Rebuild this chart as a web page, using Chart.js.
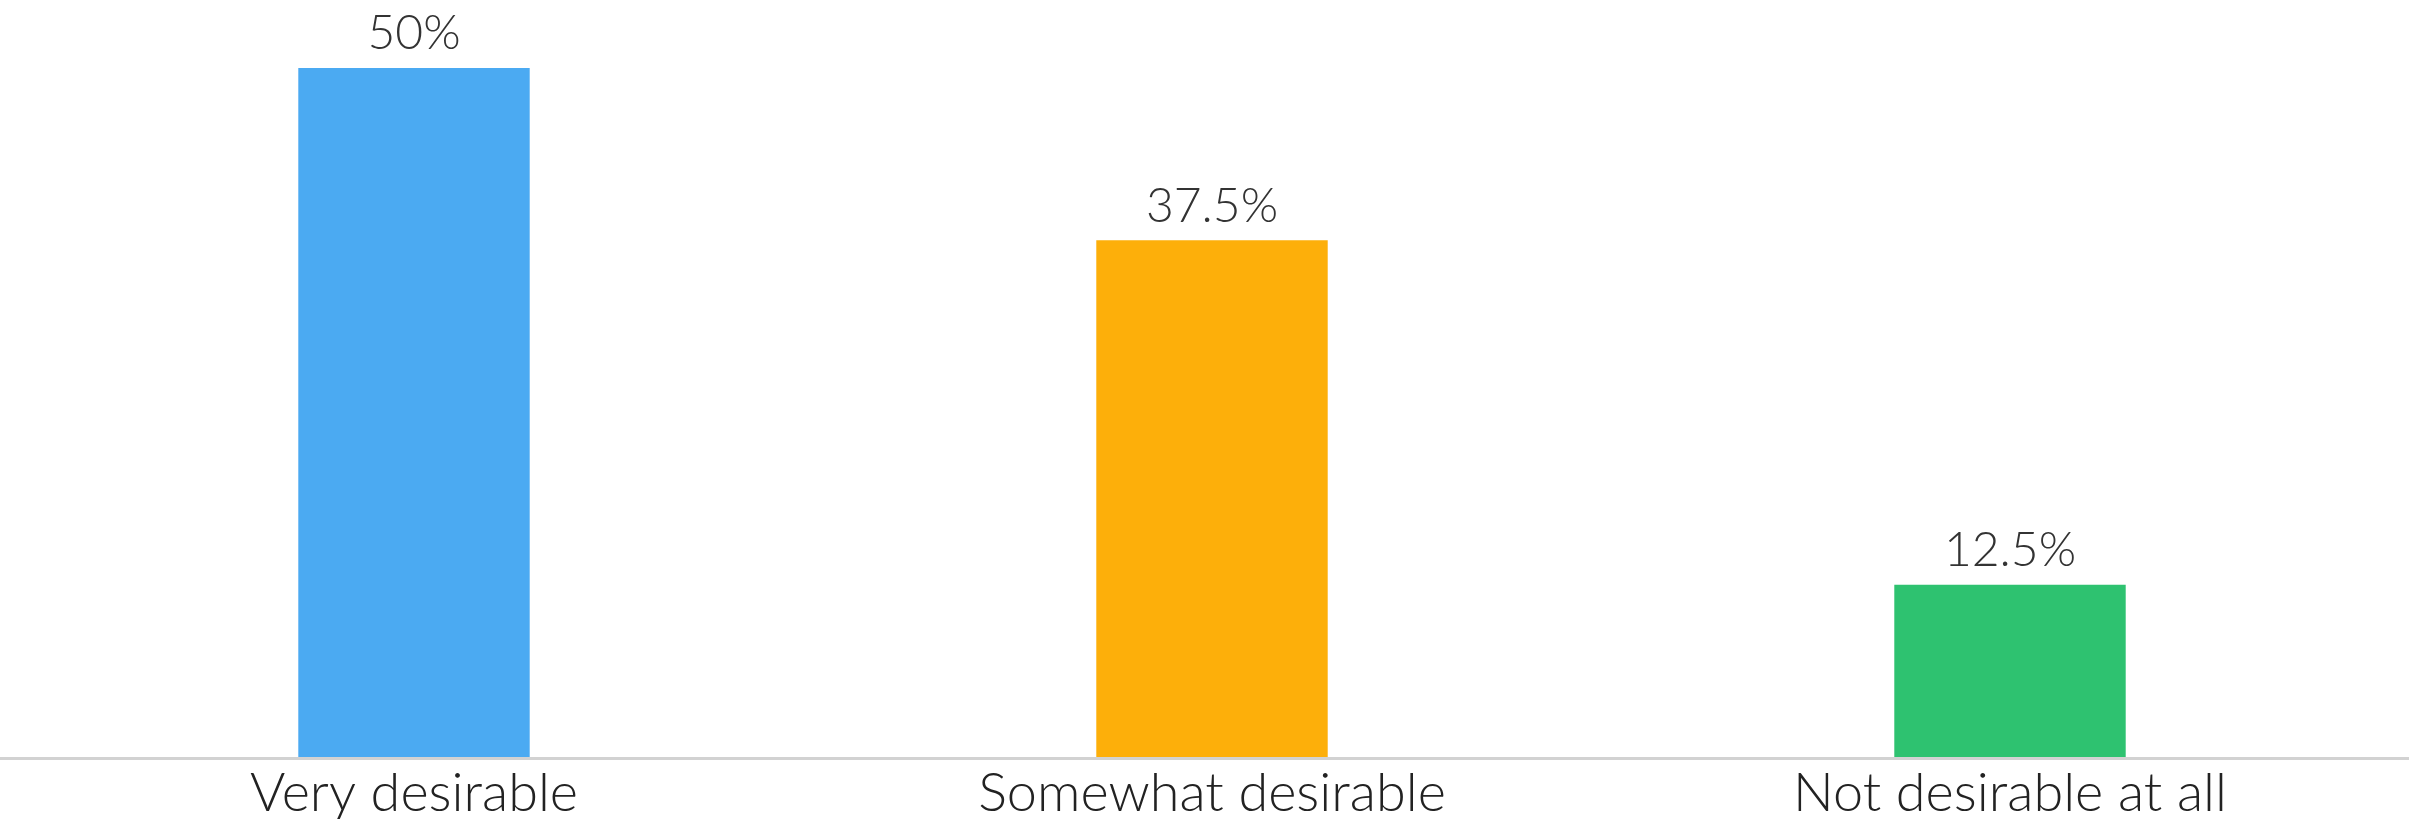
<!DOCTYPE html>
<html>
<head>
<meta charset="utf-8">
<script src="https://cdn.jsdelivr.net/npm/chart.js@4.4.1/dist/chart.umd.min.js"></script>
<style>
    html, body { margin: 0; padding: 0; background: #fff; overflow: hidden; }
    #wrap { width: 2432px; height: 835px; position: relative; }
</style>
</head>
<body>
<div id="wrap"><canvas id="barChart"></canvas></div>
<script>
// Chart data
const categories = ['Very desirable', 'Somewhat desirable', 'Not desirable at all'];
const shares = [50, 37.5, 12.5];
const barColors = ['#4BAAF2', '#FDAF0A', '#2EC270'];

// Draws the percentage above each bar
const valueLabels = {
    id: 'valueLabels',
    afterDatasetsDraw(chart) {
        const ctx = chart.ctx;
        const meta = chart.getDatasetMeta(0);
        ctx.save();
        ctx.font = '300 48px Lato, "Open Sans", sans-serif';
        ctx.fillStyle = '#333';
        ctx.textAlign = 'center';
        ctx.textBaseline = 'bottom';
        meta.data.forEach((bar, i) => {
            ctx.fillText(shares[i] + '%', bar.x, bar.y - 10);
        });
        ctx.restore();
    }
};

// Extends the baseline to the left edge like the original
const baseLine = {
    id: 'baseLine',
    beforeDatasetsDraw(chart) {
        const ctx = chart.ctx;
        const y = chart.scales.y.getPixelForValue(0);
        ctx.save();
        ctx.strokeStyle = '#d2d2d2';
        ctx.lineWidth = 3;
        ctx.beginPath();
        ctx.moveTo(0, y + 1.5);
        ctx.lineTo(chart.chartArea.right, y + 1.5);
        ctx.stroke();
        ctx.restore();
    }
};

const ctx = document.getElementById('barChart').getContext('2d');
new Chart(ctx, {
    type: 'bar',
    data: {
        labels: categories,
        datasets: [{
            data: shares,
            backgroundColor: barColors,
            borderWidth: 0,
            barPercentage: 0.29,
            categoryPercentage: 1
        }]
    },
    options: {
        responsive: true,
        maintainAspectRatio: false,
        animation: false,
        layout: {
            padding: { top: 68, left: 15, right: 23, bottom: 0 }
        },
        plugins: {
            legend: { display: false },
            tooltip: { enabled: false }
        },
        scales: {
            x: {
                grid: { display: false, drawTicks: false },
                border: { display: false },
                ticks: {
                    color: '#222',
                    padding: 4,
                    font: { family: 'Lato, "Open Sans", sans-serif', size: 54, weight: '300' }
                },
                afterFit: function (scale) {
                    scale.height = 78;
                }
            },
            y: {
                display: false,
                min: 0,
                max: 50
            }
        }
    },
    plugins: [baseLine, valueLabels]
});
</script>
</body>
</html>
